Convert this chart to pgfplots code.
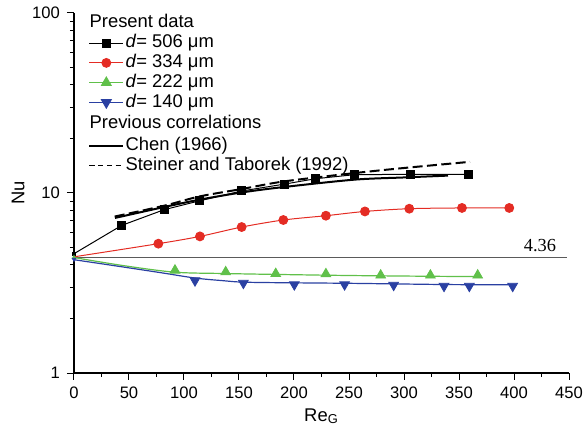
\documentclass[border=0pt]{standalone}
\usepackage{fontspec}
\setmainfont{Liberation Sans}
\newfontfamily\serifnum{Liberation Serif}
\usepackage{pgfplots}
\pgfplotsset{compat=1.18}
\definecolor{cred}{RGB}{228,44,36}
\definecolor{cgreen}{RGB}{96,192,74}
\definecolor{cblue}{RGB}{42,64,162}
\definecolor{refline}{RGB}{90,90,90}
\begin{document}
\begin{tikzpicture}
\path[use as bounding box] (-37pt,-30pt) rectangle (256.5pt,186.5pt);
\begin{axis}[
  scale only axis, width=247.5pt, height=180pt,
  ymode=log, xmin=0, xmax=450, ymin=1, ymax=100,
  axis lines*=left, axis line style={line width=0.6pt},
  xtick={0,50,...,450}, minor x tick num=1,
  ytick={1,10,100}, yticklabels={1,10,100},
  tick align=outside, major tick length=3.5pt, minor tick length=2pt,
  tick style={black, line width=0.5pt},
  /pgf/number format/assume math mode=true,
  tick label style={font=\fontsize{8.3}{10}\selectfont},
  label style={font=\fontsize{9.2}{11}\selectfont},
  xlabel={Re\textsubscript{G}}, ylabel={Nu},
  xlabel style={at={(axis description cs:0.5,-0.12)}, anchor=center},
  ylabel style={at={(axis description cs:-0.113,0.5)}, anchor=center},
  legend style={draw=none, fill=none, at={(0.028,1.0)}, anchor=north west,
    inner sep=0pt, row sep=0pt, font=\fontsize{9.2}{11}\selectfont,
    nodes={inner sep=0.6pt, text height=6.7pt, text depth=2pt}},
  legend cell align=left,
  clip=false,
]
% legend
\addlegendimage{legend image code/.code={\node[overlay, anchor=west, inner sep=0pt] at (0pt,0pt) {Present data};}}
\addlegendentry{\strut}
\addlegendimage{black, line width=0.5pt, mark=square*, mark size=2pt}
\addlegendentry{\textit{d}= 506 μm}
\addlegendimage{cred, line width=0.5pt, mark=*, mark size=2.2pt}
\addlegendentry{\textit{d}= 334 μm}
\addlegendimage{cgreen, line width=0.5pt, mark=triangle*, mark size=2.8pt}
\addlegendentry{\textit{d}= 222 μm}
\addlegendimage{cblue, line width=0.5pt, mark=triangle*, mark options={rotate=180}, mark size=2.8pt}
\addlegendentry{\textit{d}= 140 μm}
\addlegendimage{legend image code/.code={\path[draw=none, fill=none] (0pt,5.8pt) -- (0pt,-6pt);\node[overlay, anchor=west, inner sep=0pt] at (0pt,0pt) {Previous correlations};}}
\addlegendentry{\strut}
\addlegendimage{black, line width=1pt}
\addlegendentry{Chen (1966)}
\addlegendimage{black, line width=0.8pt, dash pattern=on 2.7pt off 1.7pt}
\addlegendentry{Steiner and Taborek (1992)}

% fully developed value
\addplot[refline, line width=0.6pt, forget plot] coordinates {(0,4.36)(448,4.36)};
\node[font=\serifnum\fontsize{9.2}{11}\selectfont, anchor=base, inner sep=0pt, yshift=3.4pt] at (axis cs:423.6,4.36) {4.36};

% correlations
\addplot[black, line width=1pt, smooth, forget plot] coordinates {
  (37.3,7.27)(82,8.36)(114.5,9.19)(152.4,10.07)(191,10.8)(254.8,11.86)(300,12.2)(340,12.49)};
\addplot[black, line width=1pt, smooth, dash pattern=on 5pt off 2.2pt, forget plot] coordinates {
  (37,7.4)(82,8.5)(114.5,9.58)(152.4,10.52)(191,11.6)(255,12.9)(300,13.77)(360,14.9)};

% present data: d = 506
\addplot[black, line width=0.5pt, mark=square*, mark size=2pt, mark indices={2,3,4,5,6,7,8,9,10}, forget plot] coordinates {
  (0,4.6)(43.4,6.61)(82,8.08)(114.5,9.06)(152.4,10.26)(191.2,11.2)(219.4,12.0)(254.8,12.64)(305.5,12.7)(359,12.7)};
% d = 334
\addplot[cred, line width=0.5pt, smooth, mark=*, mark size=2.2pt, mark indices={2,3,4,5,6,7,8,9,10}, forget plot] coordinates {
  (0,4.42)(76.7,5.23)(114.5,5.74)(152.4,6.47)(190.3,7.08)(229,7.48)(264.5,7.9)(304.8,8.18)(352.7,8.26)(395.7,8.26)};
% d = 222: fitted line, then marks
\addplot[cgreen, line width=0.6pt, smooth, forget plot] coordinates {
  (0,4.38)(45,3.95)(92,3.63)(138,3.57)(170,3.54)(251,3.48)(342,3.44)(370,3.44)};
\addplot[cgreen, only marks, mark=triangle*, mark size=2.8pt, forget plot] coordinates {
  (91.8,3.72)(137.9,3.64)(183.4,3.56)(229,3.55)(278.8,3.49)(324,3.49)(367,3.49)};
% d = 140: fitted line, then marks
\addplot[cblue, line width=0.6pt, smooth, forget plot] coordinates {
  (0,4.26)(40,3.92)(80,3.6)(110,3.37)(135,3.26)(160,3.19)(250,3.15)(340,3.10)(402,3.09)};
\addplot[cblue, only marks, mark=triangle*, mark options={rotate=180}, mark size=2.8pt, forget plot] coordinates {
  (110,3.26)(154,3.16)(200.3,3.10)(246,3.10)(290.6,3.08)(336.4,3.04)(359.4,3.04)(398.8,3.04)};
% small marks at the origin
\addplot[only marks, mark=square*, mark size=0.8pt, black, forget plot] coordinates {(0,4.6)};
\addplot[only marks, mark=triangle*, mark size=1pt, cgreen, forget plot] coordinates {(0,4.38)};
\addplot[only marks, mark=triangle*, mark options={rotate=180}, mark size=1pt, cblue, forget plot] coordinates {(0,4.28)};
\end{axis}
\end{tikzpicture}
\end{document}
